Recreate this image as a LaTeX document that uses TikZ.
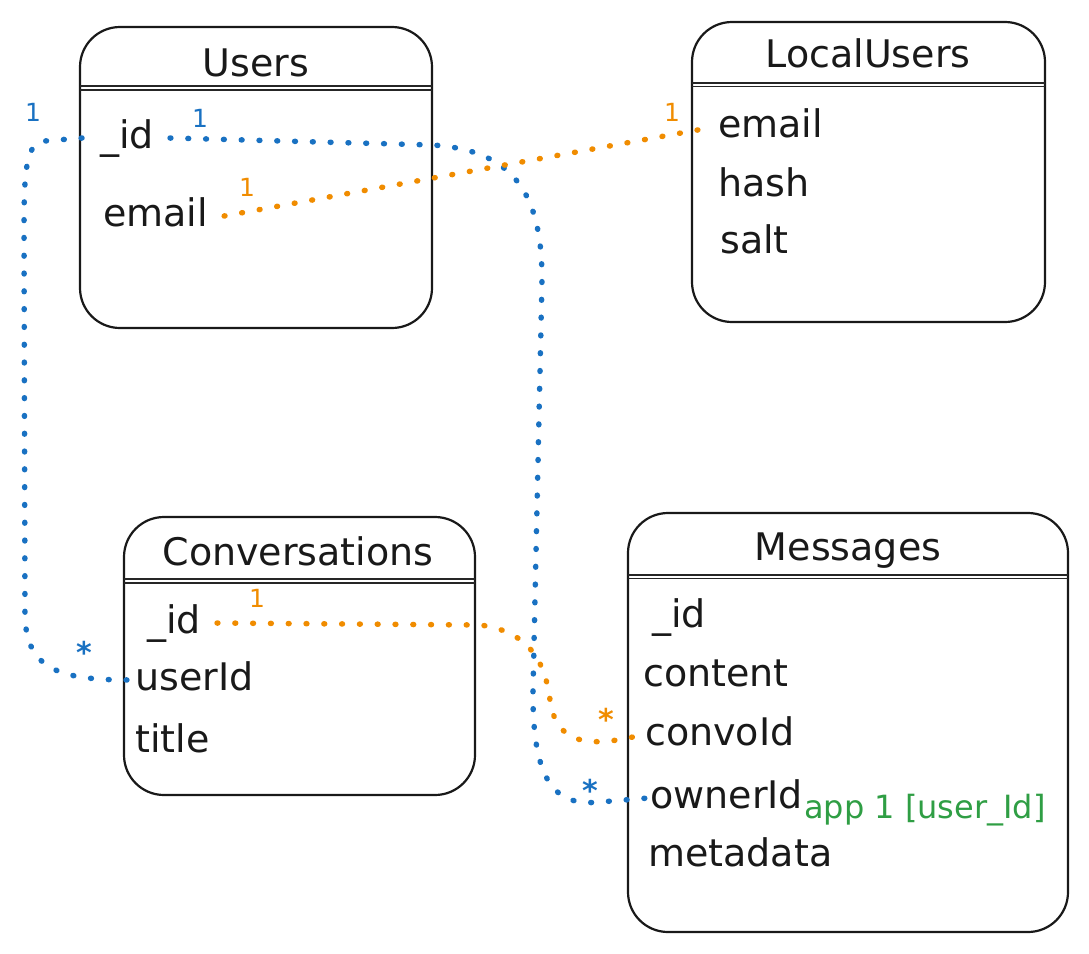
\documentclass[tikz,border=0pt]{standalone}
\usepackage{fontspec}
\setmainfont{DejaVu Sans}
\definecolor{exblue}{HTML}{1971C2}
\definecolor{exorange}{HTML}{F08C00}
\definecolor{exgreen}{HTML}{2F9E44}
\begin{document}
\begin{tikzpicture}[x=1pt,y=-1pt,
  tbox/.style={draw=black!90, line width=2.2pt, rounded corners=40pt, minimum width=#1, inner sep=0pt},
  field/.style={anchor=base west, inner sep=2pt, text height=28pt, text depth=8pt, font=\fontsize{38}{44}\selectfont, text=black!90},
  ttl/.style={anchor=base, inner sep=2pt, font=\fontsize{38}{44}\selectfont, text=black!90},
  hdr/.style={black!85, line width=2pt},
  bdot/.style={exblue, line width=5.5pt, line cap=round, dash pattern=on 0.8pt off 17pt},
  odot/.style={exorange, line width=5.5pt, line cap=round, dash pattern=on 0.8pt off 17pt},
  card/.style={inner sep=0pt, font=\fontsize{25}{28}\selectfont},
  star/.style={inner sep=0pt, font=\fontsize{30}{32}\selectfont\bfseries},
]
\useasboundingbox (0,0) rectangle (1089,953);
% boxes
\node[tbox=352pt, minimum height=301pt] (users) at (256,177.5) {};
\node[tbox=353pt, minimum height=300pt] (local) at (868.5,172) {};
\node[tbox=351pt, minimum height=278pt] (convo) at (299.5,656) {};
\node[tbox=440pt, minimum height=419pt] (msgs) at (848,722.5) {};
% header lines
\draw[hdr] (80,86) -- (432,86); \draw[hdr,line width=1.2pt] (80,90) -- (432,90);
\draw[hdr] (692,83) -- (1045,83); \draw[hdr,line width=1.2pt] (692,86.5) -- (1045,86.5);
\draw[hdr] (124,579) -- (475,579); \draw[hdr,line width=1.2pt] (124,583) -- (475,583);
\draw[hdr] (628,575) -- (1068,575); \draw[hdr,line width=1.2pt] (628,578.5) -- (1068,578.5);
% titles
\node[ttl] (tusers) at (256,76) {Users};
\node[ttl] (tlocal) at (868,67) {LocalUsers};
\node[ttl] (tconvo) at (298,565) {Conversations};
\node[ttl] (tmsgs) at (848,560) {Messages};
% fields
\node[field] (uid) at (98,148) {\_id};
\node[field] (uemail) at (101,226) {email};
\node[field] (lemail) at (716,137) {email};
\node[field] (lhash) at (716,196) {hash};
\node[field] (lsalt) at (718,253) {salt};
\node[field] (cid) at (145,633) {\_id};
\node[field] (cuser) at (133,690) {userId};
\node[field] (ctitle) at (133,752) {title};
\node[field] (mid) at (650,627) {\_id};
\node[field] (mcontent) at (641,686) {content};
\node[field] (mconvo) at (643,745) {convoId};
\node[field] (mowner) at (648,808) {ownerId};
\node[field] (mmeta) at (646,866) {metadata};
\node[anchor=base west, inner sep=0pt, text=exgreen, font=\fontsize{32}{36}\selectfont] (note) at (804,818) {app 1 [user\_Id]};
% connectors
\draw[bdot] ([xshift=-16pt]uid.west) -- (45,141) .. controls (26,142) and (24,170) .. (24,230) -- (25,615) .. controls (26,670) and (60,680) .. ([xshift=-2pt]cuser.west);
\draw[bdot] ([xshift=14pt]uid.east) -- (432,145) .. controls (515,150) and (542,195) .. (542,280) -- (533,690) .. controls (532,790) and (560,806) .. (600,802) -- ([xshift=0pt]mowner.west);
\draw[odot] ([xshift=14pt]uemail.east) -- ([xshift=-2pt]lemail.west);
\draw[odot] ([xshift=14pt]cid.east) -- (480,625) .. controls (535,632) and (546,670) .. (550,700) .. controls (556,745) and (590,748) .. ([xshift=-2pt]mconvo.west);
% cardinalities
\node[card, text=exblue] (c1) at (33,112) {1};
\node[card, text=exblue] (c2) at (200,118) {1};
\node[star, text=exblue] (c3) at (84,652) {*};
\node[star, text=exblue] (c4) at (590,790) {*};
\node[card, text=exorange] (c5) at (247,187) {1};
\node[card, text=exorange] (c6) at (672,112) {1};
\node[card, text=exorange] (c7) at (257,598) {1};
\node[star, text=exorange] (c8) at (606,719) {*};
\end{tikzpicture}
\end{document}
